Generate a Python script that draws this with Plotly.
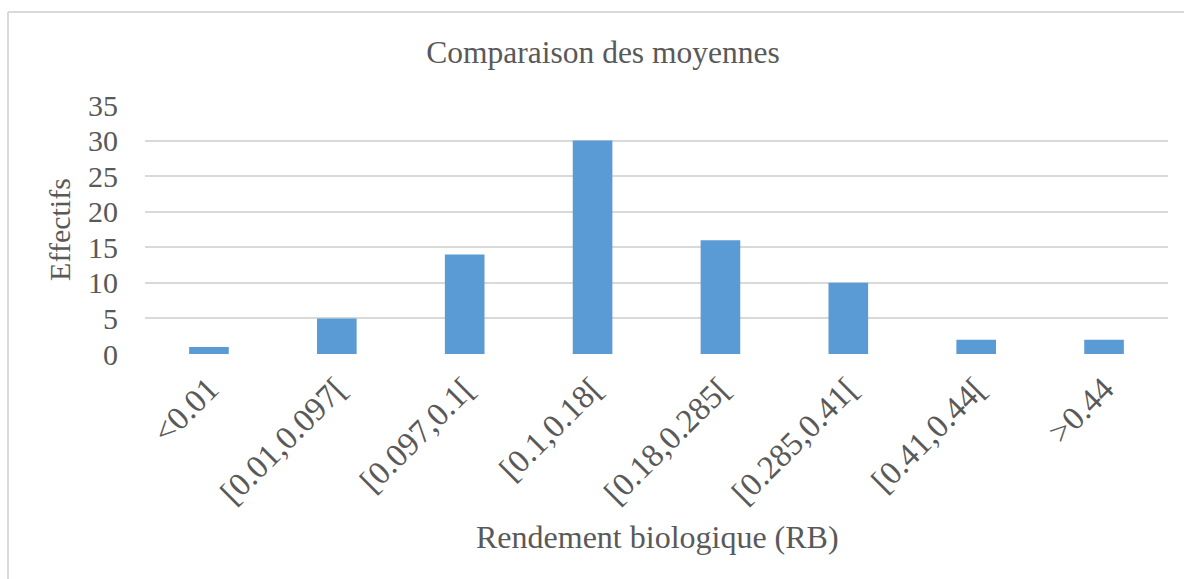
import plotly.graph_objects as go

categories = ["<0.01", "[0.01,0.097[", "[0.097,0.1[", "[0.1,0.18[", "[0.18,0.285[",
              "[0.285,0.41[", "[0.41,0.44[", ">0.44"]
effectifs = [1, 5, 14, 30, 16, 10, 2, 2]
y_ticks = [0, 5, 10, 15, 20, 25, 30, 35]

W, H = 1184, 579
ML, MR, MT, MB = 145, 16, 105, 225
pw, ph = W - ML - MR, H - MT - MB

def px_x(x):
    return (x - ML) / pw

def px_y(y):
    return (H - MB - y) / ph

FONT = "Liberation Serif"
GRAY = "#595959"

fig = go.Figure(go.Bar(x=categories, y=effectifs, marker_color="#5B9BD5",
                       marker_line_width=0, hoverinfo="skip"))

fig.update_layout(
    width=W, height=H,
    margin=dict(l=ML, r=MR, t=MT, b=MB),
    paper_bgcolor="white", plot_bgcolor="white",
    bargap=0.69,
    font=dict(family=FONT, color=GRAY, size=30),
    title=dict(text="Comparaison des moyennes", x=603 / W, xanchor="center",
               y=1 - 52 / H, yanchor="middle",
               font=dict(family=FONT, size=31.5, color=GRAY)),
    showlegend=False,
    shapes=[
        dict(type="line", xref="paper", yref="paper",
             x0=px_x(8), x1=px_x(1200), y0=px_y(12), y1=px_y(12),
             line=dict(color="#D9D9D9", width=2)),
        dict(type="line", xref="paper", yref="paper",
             x0=px_x(8), x1=px_x(8), y0=px_y(12), y1=px_y(600),
             line=dict(color="#D9D9D9", width=2)),
    ],
    annotations=[
        dict(text="Rendement biologique (RB)", xref="paper", yref="paper",
             x=px_x(657), y=px_y(537), xanchor="center", yanchor="middle",
             showarrow=False, font=dict(family=FONT, size=32, color=GRAY)),
    ],
)
fig.update_xaxes(tickangle=-45, showgrid=False, showline=False, zeroline=False,
                 ticklabelstandoff=8,
                 tickfont=dict(family=FONT, size=33, color=GRAY))
fig.update_yaxes(range=[0, 35], tickvals=y_ticks, showgrid=True,
                 gridcolor="#D9D9D9", gridwidth=1.5, zeroline=False, showline=False,
                 ticklabelstandoff=26,
                 tickfont=dict(family=FONT, size=30, color=GRAY),
                 title=dict(text="Effectifs",
                            font=dict(family=FONT, size=30, color=GRAY),
                            standoff=8))

fig.write_html("out.html", config={"displayModeBar": False},
               post_script="document.body.style.margin='0';")
